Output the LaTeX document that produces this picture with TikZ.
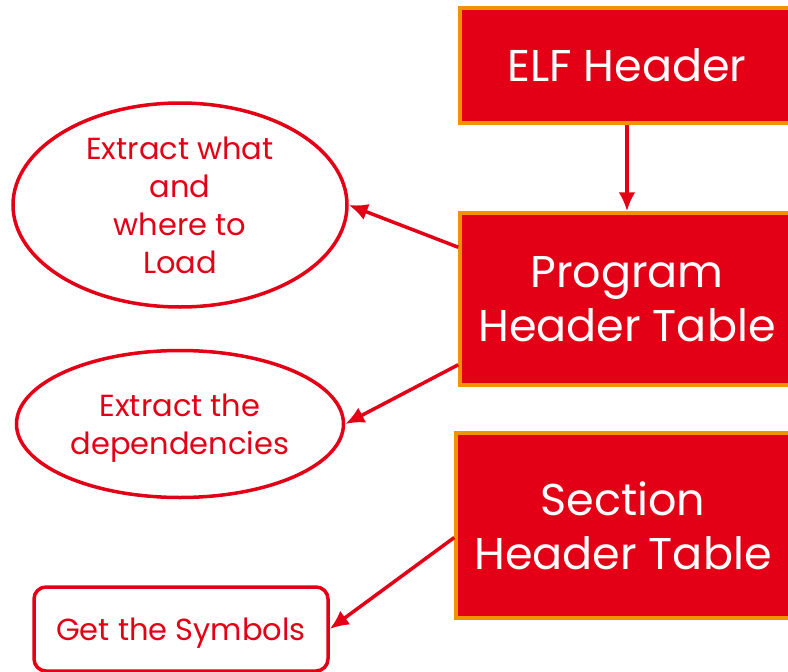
\documentclass[tikz,border=0pt]{standalone}
\usepackage{fontspec}
\setmainfont{Poppins}
\usepackage{tikz}
\usetikzlibrary{shapes.geometric,arrows.meta,positioning,calc}
\definecolor{elfred}{RGB}{227,0,22}
\definecolor{elforange}{RGB}{243,146,0}
\begin{document}
\begin{tikzpicture}[x=1pt,y=-1pt]
\tikzset{hdr/.style={draw=elforange,line width=3.5pt,fill=elfred,text=white,minimum width=334pt,align=center,font=\fontsize{44.5}{54}\selectfont},
  job/.style={draw=elfred,line width=3.5pt,fill=white,text=elfred,ellipse,inner sep=0pt,align=center,font=\fontsize{30.5}{38}\selectfont},
  arr/.style={-{Latex[length=19pt,width=17pt]},elfred,line width=3.5pt}}
\useasboundingbox (0,0) rectangle (788,672);
\fill[white] (0,0) rectangle (788,672);
\clip (0,0) rectangle (788,672);
% header blocks
\node[hdr,minimum height=115pt] (elf) at (627,65.5) {ELF Header};
\node[hdr,minimum height=172pt] (pht) at (627,299) {Program\\Header Table};
\node[hdr,minimum height=185pt] (sht) at (623,525.5) {Section\\Header Table};
% what they give
\node[job,minimum width=334pt,minimum height=204pt] (load) at (180,205) {Extract what\\and\\where to\\Load};
\node[job,minimum width=327pt,minimum height=147pt,text depth=-7pt] (deps) at (180,424) {Extract the\\dependencies};
\node[draw=elfred,line width=3.5pt,rounded corners=12pt,text=elfred,minimum width=294pt,minimum height=84pt,text depth=-7pt,font=\fontsize{30.5}{38}\selectfont] (sym) at (181,629) {Get the Symbols};
\draw[arr] (elf) -- (pht);
\draw[arr] ([yshift=-36pt]pht.north west) -- (load.east);
\draw[arr] ([yshift=22pt]pht.south west) -- (deps.east);
\draw[arr] ([yshift=-12pt]sht.west) -- (sym.east);
\end{tikzpicture}
\end{document}
